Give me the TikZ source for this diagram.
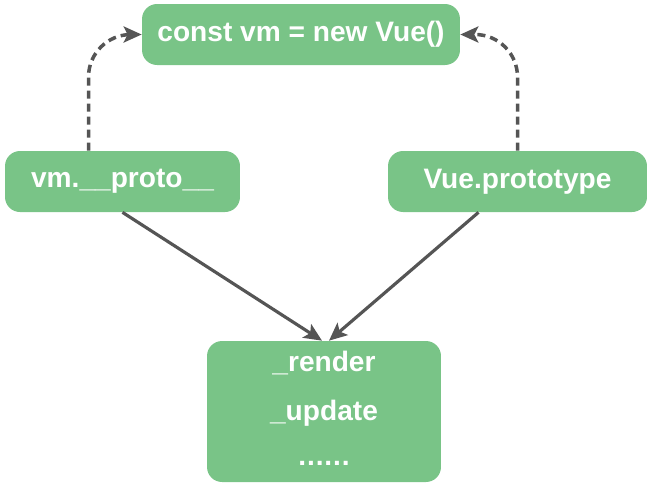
\documentclass[tikz,border=0pt]{standalone}
\usepackage{fontspec}
\setmainfont{Liberation Sans}
\usetikzlibrary{arrows.meta}
\definecolor{vuegreen}{RGB}{121,196,135}
\definecolor{linegray}{RGB}{85,85,85}
\tikzset{
    box/.style={fill=vuegreen, draw=none, rounded corners=0.3cm, text=white,
        font=\bfseries\fontsize{16}{19}\selectfont, inner sep=0pt},
    label/.style={text=white, font=\bfseries\fontsize{16}{19}\selectfont, inner sep=0pt},
    link/.style={draw=linegray, line width=1.8pt,
        -{Stealth[length=0.36cm, width=0.32cm, inset=0.08cm]}},
    protolink/.style={link, line width=2pt, dash pattern=on 0.16cm off 0.1cm, rounded corners=0.85cm}
}
\begin{document}
\begin{tikzpicture}[x=0.02cm, y=-0.02cm]
    \useasboundingbox (0,0) rectangle (655,488);
    % boxes
    \node[box, minimum width=6.36cm, minimum height=1.22cm] (vm) at (301,34.5) {const vm = new Vue()};
    \node[box, minimum width=4.7cm, minimum height=1.22cm] (proto) at (122.5,181.5) {vm.\_\_proto\_\_};
    \node[box, minimum width=5.18cm, minimum height=1.22cm] (prototype) at (517.5,181.5) {Vue.prototype};
    \node[box, minimum width=4.68cm, minimum height=2.82cm] (methods) at (324,411.5) {};
    \node[label] (render) at (324,363) {\_render};
    \node[label] (update) at (324,413) {\_update};
    \node[label] (dots) at (324,463) {.\kern0.5pt.\kern0.5pt.\kern0.5pt.\kern0.5pt.\kern0.5pt.};
    % dashed links up
    \draw[protolink] ([xshift=-0.68cm]proto.north) |- (vm.west);
    \draw[protolink] (prototype.north) |- (vm.east);
    % solid links down
    \coordinate (tip) at (methods.north);
    \draw[link] (proto.south) -- ([xshift=-0.04cm]tip);
    \draw[link] ([xshift=-0.78cm]prototype.south) -- ([xshift=0.1cm]tip);
\end{tikzpicture}
\end{document}
